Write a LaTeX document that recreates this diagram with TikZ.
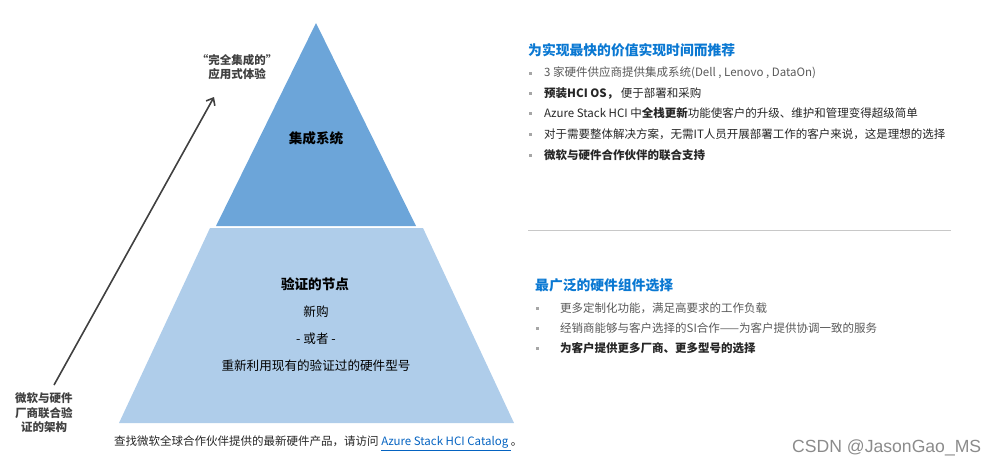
\documentclass[tikz,border=0pt]{standalone}
\usepackage{fontspec}
\setmainfont{Noto Sans CJK SC}
\newfontfamily\wmfont{Liberation Sans}
\definecolor{topblue}{HTML}{6CA5D9}
\definecolor{lowblue}{HTML}{AFCDEA}
\definecolor{headblue}{HTML}{0A78D2}
\definecolor{linkblue}{HTML}{0563C1}
\definecolor{darktxt}{HTML}{262626}
\definecolor{graytxt}{HTML}{595959}
\definecolor{arrowgray}{HTML}{404040}
\definecolor{bulletgray}{HTML}{A6A6A6}
\definecolor{sepgray}{HTML}{C8C8C8}
\usetikzlibrary{arrows.meta}
\begin{document}
\begin{tikzpicture}[x=1pt,y=-1pt,
  txt/.style={inner sep=0pt,font=\fontsize{11.5}{13}\selectfont,text=darktxt},
  gtxt/.style={txt,text=graytxt},
  btxt/.style={txt,font=\fontsize{11.5}{13}\selectfont\bfseries},
  head/.style={inner sep=0pt,anchor=west,font=\fontsize{13.8}{15}\selectfont\bfseries,text=headblue},
  ptxt/.style={inner sep=0pt,font=\fontsize{12.6}{14}\selectfont,text=black},
  pbold/.style={inner sep=0pt,font=\fontsize{13.6}{15}\selectfont\bfseries,text=black},
  side/.style={inner sep=0pt,font=\fontsize{11.5}{14.5}\selectfont\bfseries,text=arrowgray,align=center},
  bul/.style={fill=bulletgray,inner sep=0pt,minimum size=3pt,shape=rectangle}
]
\useasboundingbox (0,0) rectangle (1001,469);
% pyramid
\fill[topblue] (316,23) -- (416,226) -- (216,226) -- cycle;
\fill[lowblue] (210,228) -- (423,228) -- (514,423) -- (119,423) -- cycle;
% pyramid texts
\node[pbold] (t1) at (316,138) {集成系统};
\node[pbold] (t2) at (315,284) {验证的节点};
\node[ptxt] (t3) at (316,312) {新购};
\node[ptxt] (t4) at (316,339) {- 或者 -};
\node[ptxt] (t5) at (316,366) {重新利用现有的验证过的硬件型号};
% arrow
\coordinate (a0) at (54,385);
\coordinate (a1) at (214,97);
\draw[arrowgray,line width=1.6pt,-{Straight Barb[length=6pt,width=10pt]}] (a0) -- (a1);
\node[side] (s1) at (237,67) {“完全集成的”\\应用式体验};
\node[side] (s2) at (44,413) {微软与硬件\\厂商联合验\\证的架构};
% caption
\node[txt,anchor=west] (cap) at (114,443) {查找微软全球合作伙伴提供的最新硬件产品，请访问 \textcolor{linkblue}{\underline{Azure Stack HCI Catalog }}。};
% right section 1
\node[head] (h1) at (528,50) {为实现最快的价值实现时间而推荐};
\foreach \yy in {73,93,113,134,155} \node[bul] at (530,\yy) {};
\node[gtxt,anchor=west] (r1) at (544,73) {3 家硬件供应商提供集成系统(Dell , Lenovo , DataOn)};
\node[txt,anchor=west] (r2) at (544,93) {\textbf{预装HCI OS，} 便于部署和采购};
\node[txt,anchor=west] (r3) at (544,113) {Azure Stack HCI 中\textbf{全栈更新}功能使客户的升级、维护和管理变得超级简单};
\node[txt,anchor=west] (r4) at (544,134) {对于需要整体解决方案，无需IT人员开展部署工作的客户来说，这是理想的选择};
\node[btxt,anchor=west] (r5) at (544,155) {微软与硬件合作伙伴的联合支持};
% separator
\coordinate (l0) at (528,230);
\coordinate (l1) at (951,230);
\draw[sepgray,line width=0.8pt] (l0) -- (l1);
% right section 2
\node[head] (h2) at (535,285) {最广泛的硬件组件选择};
\foreach \yy in {308,328,348} \node[bul] at (537,\yy) {};
\node[gtxt,anchor=west] (q1) at (560,308) {更多定制化功能，满足高要求的工作负载};
\node[gtxt,anchor=west] (q2) at (560,328) {经销商能够与客户选择的SI合作——为客户提供协调一致的服务};
\node[btxt,anchor=west] (q3) at (560,348) {为客户提供更多厂商、更多型号的选择};
% watermark
\node[inner sep=0pt,anchor=west,font=\wmfont\fontsize{17.6}{19}\selectfont,text=graytxt!70] (wm) at (792,448) {CSDN @JasonGao\_MS};
\end{tikzpicture}
\end{document}
